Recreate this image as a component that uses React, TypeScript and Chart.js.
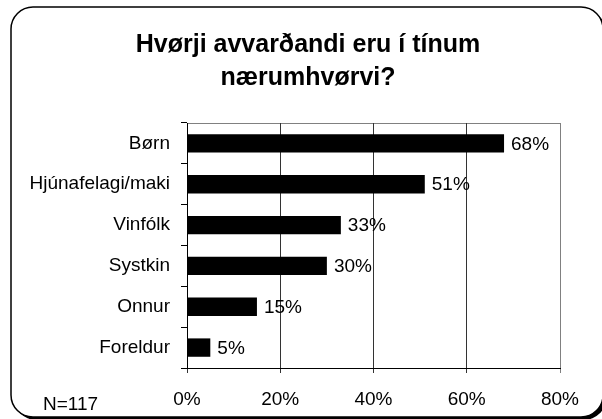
import React, { useEffect, useRef } from "react";
import { Chart, registerables } from "chart.js";

Chart.register(...registerables);

const TITLE_LINES = ["Hvørji avvarðandi eru í tínum", "nærumhvørvi?"];
const CATEGORIES = ["Børn", "Hjúnafelagi/maki", "Vinfólk", "Systkin", "Onnur", "Foreldur"];
const VALUES = [68, 51, 33, 30, 15, 5];
const X_TICKS = [0, 20, 40, 60, 80];
const NOTE = "N=117";

const FONT = "'Liberation Sans', Arial, Helvetica, sans-serif";

const decorPlugin = {
  id: "decor",
  beforeDraw(chart: any) {
    const ctx = chart.ctx as CanvasRenderingContext2D;
    const w = chart.width;
    const h = chart.height;
    ctx.save();
    ctx.fillStyle = "#fff";
    ctx.fillRect(0, 0, w, h);
    // shadow
    ctx.beginPath();
    (ctx as any).roundRect(14, 10, 592, 410, 22);
    ctx.fillStyle = "#000";
    ctx.fill();
    // frame
    ctx.beginPath();
    (ctx as any).roundRect(11, 7, 592, 410, 22);
    ctx.fillStyle = "#fff";
    ctx.fill();
    ctx.lineWidth = 1.5;
    ctx.strokeStyle = "#000";
    ctx.stroke();
    // plot area border
    const a = chart.chartArea;
    ctx.lineWidth = 1;
    ctx.strokeStyle = "#808080";
    ctx.strokeRect(
      Math.round(a.left) + 0.5,
      Math.round(a.top) + 0.5,
      Math.round(a.right - a.left),
      Math.round(a.bottom - a.top)
    );
    ctx.restore();
  },
  afterDatasetsDraw(chart: any) {
    const ctx = chart.ctx as CanvasRenderingContext2D;
    const meta = chart.getDatasetMeta(0);
    ctx.save();
    ctx.fillStyle = "#000";
    ctx.font = `19px ${FONT}`;
    ctx.textAlign = "left";
    ctx.textBaseline = "middle";
    meta.data.forEach((bar: any, i: number) => {
      ctx.fillText(`${VALUES[i]}%`, bar.x + 7, bar.y + 1);
    });
    ctx.restore();
  },
  afterDraw(chart: any) {
    const ctx = chart.ctx as CanvasRenderingContext2D;
    ctx.save();
    ctx.fillStyle = "#000";
    ctx.font = `bold 25px ${FONT}`;
    ctx.textAlign = "center";
    ctx.textBaseline = "alphabetic";
    ctx.fillText(TITLE_LINES[0], 308, 52);
    ctx.fillText(TITLE_LINES[1], 308, 85);
    ctx.font = `19px ${FONT}`;
    ctx.textAlign = "left";
    ctx.fillText(NOTE, 43, 410);
    ctx.restore();
  },
};

export default function App() {
  const ref = useRef<HTMLCanvasElement | null>(null);

  useEffect(() => {
    if (!ref.current) return;
    const chart = new Chart(ref.current, {
      type: "bar",
      data: {
        labels: CATEGORIES,
        datasets: [
          {
            data: VALUES,
            backgroundColor: "#000",
            borderWidth: 0,
            barPercentage: 0.45,
            categoryPercentage: 1,
          },
        ],
      },
      options: {
        indexAxis: "y",
        responsive: false,
        animation: false,
        devicePixelRatio: 1,
        layout: { padding: { left: 0, right: 42, top: 123, bottom: 0 } },
        plugins: {
          legend: { display: false },
          title: { display: false },
          tooltip: { enabled: false },
        },
        scales: {
          x: {
            min: 0,
            max: 80,
            position: "bottom",
            afterFit: (s: any) => {
              s.height = 51;
            },
            afterBuildTicks: (s: any) => {
              s.ticks = X_TICKS.map((v) => ({ value: v }));
            },
            ticks: {
              callback: (v: any) => `${v}%`,
              color: "#000",
              font: { family: FONT, size: 19 },
              padding: 15,
              maxRotation: 0,
            },
            grid: {
              color: (c: any) => (c.tick && c.tick.value === 80 ? "#808080" : "#333"),
              lineWidth: 1,
              tickLength: 5,
              drawTicks: true,
            },
            border: { display: true, color: "#000", width: 1 },
          },
          y: {
            afterFit: (s: any) => {
              s.width = 187;
            },
            ticks: {
              color: "#000",
              font: { family: FONT, size: 19 },
              padding: 11,
            },
            grid: {
              drawOnChartArea: false,
              color: "#000",
              tickLength: 6,
            },
            border: { display: true, color: "#000", width: 1 },
          },
        },
      },
      plugins: [decorPlugin],
    } as any);
    return () => chart.destroy();
  }, []);

  return (
    <div style={{ position: "absolute", left: 0, top: 0, width: 602, height: 419, overflow: "hidden" }}>
      <canvas ref={ref} width={602} height={419} style={{ display: "block", width: 602, height: 419 }} />
    </div>
  );
}
